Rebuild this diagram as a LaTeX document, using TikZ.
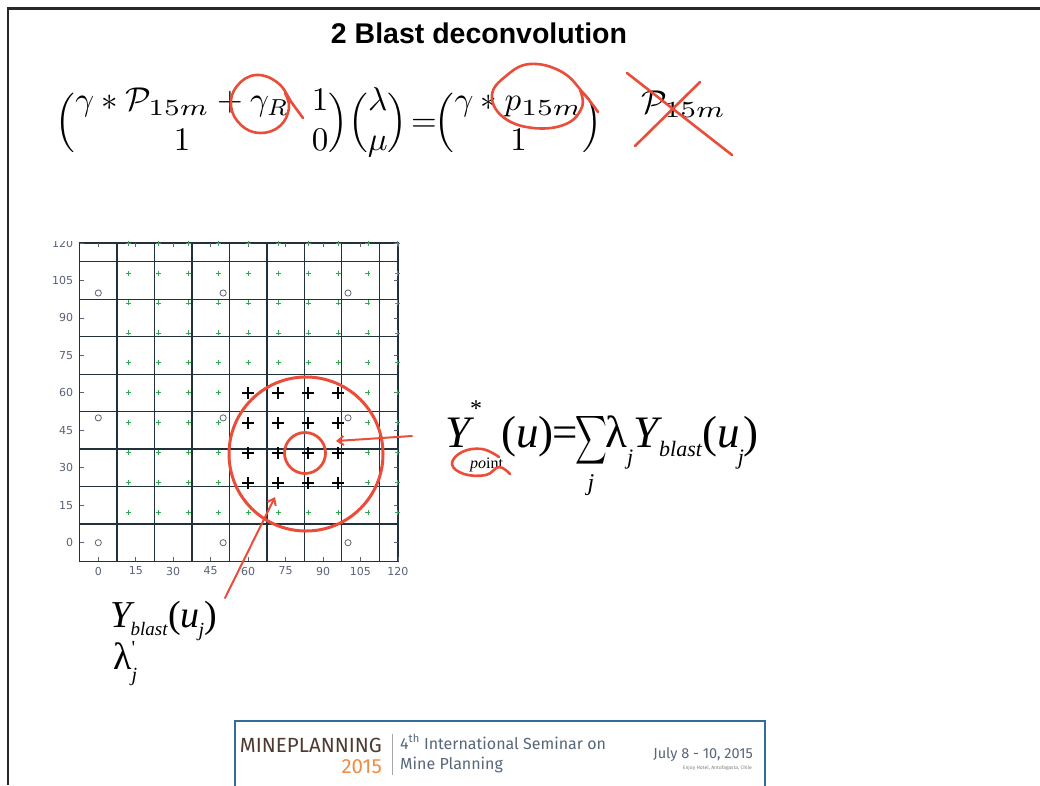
\documentclass[tikz,border=0pt]{standalone}
\usepackage{amsmath}
\usepackage{graphicx}
\usepackage{fontspec}
\usetikzlibrary{arrows.meta}
\newfontfamily\arialf{Liberation Sans}
\newfontfamily\timesf{Liberation Serif}
\newfontfamily\dejaf{DejaVu Sans}
\newfontfamily\firaf{Fira Sans}
\newcommand\bigsub[1]{\scalebox{1.2}[1.0]{$\scriptstyle #1$}}
\definecolor{annot}{RGB}{234,78,58}
\definecolor{gridc}{RGB}{34,50,60}
\definecolor{labc}{RGB}{88,98,118}
\definecolor{gplusc}{RGB}{52,168,82}
\definecolor{markc}{RGB}{95,100,115}
\definecolor{footblue}{RGB}{52,108,150}
\definecolor{minebrown}{RGB}{78,58,48}
\definecolor{mineorange}{RGB}{240,140,70}
\definecolor{footgray}{RGB}{88,102,122}
\definecolor{framec}{RGB}{40,40,40}
\begin{document}
\begin{tikzpicture}[x=1pt,y=-1pt,
  gridline/.style={draw=gridc, line width=1.3pt},
  tickmark/.style={draw=labc, line width=0.8pt},
  axlab/.style={font=\dejaf\fontsize{11}{11}\selectfont, text=labc, inner sep=0pt},
  gplus/.style={draw=gplusc, line width=0.9pt},
  bplus/.style={draw=black, line width=1.8pt},
  omark/.style={draw=markc, line width=0.8pt},
  redline/.style={draw=annot, line width=2.6pt, line cap=round, line join=round},
  redarrow/.style={draw=annot, line width=2pt, line cap=round, -{Straight Barb[length=6pt,width=9pt]}},
  mathbig/.style={inner sep=0pt, scale=3.3},
  serifbig/.style={inner sep=0pt, font=\timesf\fontsize{45}{45}\selectfont},
  serifmid/.style={inner sep=0pt, font=\timesf\fontsize{38}{38}\selectfont},
  foottext/.style={inner sep=0pt, font=\firaf\fontsize{16}{16}\selectfont, text=footgray}]
\useasboundingbox (0,0) rectangle (1040,785);
\fill[white] (0,0) rectangle (1040,785);
% slide frame
\draw[framec, line width=2.5pt] (8,785) -- (8,8.5) -- (1040,8.5);

% title
\node[anchor=base, inner sep=0pt, font=\arialf\bfseries\fontsize{28.5}{30}\selectfont] (title) at (479,43) {2 Blast deconvolution};

% matrix equation
\node[mathbig, anchor=base west] (eq) at (55,131) {\setlength\arraycolsep{3.5pt}$\Bigl(\begin{matrix}\gamma*\mathcal{P}_{\bigsub{15m}}+\gamma_R & 1\\ 1 & 0\end{matrix}\Bigr)\Bigl(\begin{matrix}\lambda\\ \mu\end{matrix}\Bigr)\!=\!\!\Bigl(\begin{matrix}\gamma*p_{\bigsub{15m}}\\ 1\end{matrix}\Bigr)$};
\node[mathbig, anchor=base west] (pcross) at (641,113) {$\mathcal{P}_{\bigsub{15m}}$};

% red marks on the equation
\draw[redline] plot[smooth, tension=0.7] coordinates {(303,118) (292,103) (278,83) (256,75) (237,86) (231,106) (241,125) (260,133) (280,126) (289,108) (285,93)};
\draw[redline] plot[smooth, tension=0.7] coordinates {(598,112) (584,94) (562,72) (530,64) (506,76) (492,95) (503,117) (533,128) (566,124) (582,107) (580,90)};
\draw[redline] (627,73) -- (732,155);
\draw[redline] (700,82) -- (635,146);

% plot
\begin{scope}
\clip (30,241) rectangle (430,600);
\begin{scope}[shift={(98.3,542.7)}, x=2.497pt, y=2.497pt]
  \foreach \g in {7.5,22.5,37.5,52.5,67.5,82.5,97.5,112.5} {
    \draw[gridline] (\g,-7.5) -- (\g,120);
    \draw[gridline] (-7.5,\g) -- (120,\g);
  }
  \draw[gridline] (-7.5,-7.5) rectangle (120,120);
  \foreach \tv in {0,15,30,45,60,75,90,105,120} {
    \draw[tickmark] (\tv,-7.5) -- ++(0,1.6);
    \draw[tickmark] (\tv,120) -- ++(0,-1.6);
    \draw[tickmark] (-7.5,\tv) -- ++(1.6,0);
    \draw[tickmark] (120,\tv) -- ++(-1.6,0);
    \node[axlab, anchor=east] at (-10,\tv) {\tv};
    \node[axlab, anchor=north] at (\tv,-9.6) {\tv};
  }
  \foreach \i in {1,...,10} {
    \foreach \j in {1,...,10} {
      \draw[gplus] ({12*\i-1},{12*\j}) -- ++(2,0) ({12*\i},{12*\j-1}) -- ++(0,2);
    }
  }
  \foreach \i in {5,...,8} {
    \foreach \j in {2,...,5} {
      \draw[bplus] ({12*\i-2.4},{12*\j}) -- ++(4.8,0) ({12*\i},{12*\j-2.4}) -- ++(0,4.8);
    }
  }
  \foreach \ox in {0,50,100} {
    \foreach \oy in {0,50,100} {
      \draw[omark] (\ox,\oy) circle[radius=3.1pt];
    }
  }
\end{scope}
\end{scope}

% red circles
\draw[annot, line width=3pt] (306,454) circle[radius=77];
\draw[annot, line width=2.8pt] (305,453) circle[radius=20.5];

% right formula
\node[serifbig, anchor=base west] (ypoint) at (445,447) {\textit{Y}\kern-4pt\rlap{\raisebox{31pt}{\fontsize{24}{24}\selectfont *}}\raisebox{-21pt}{\fontsize{16}{16}\selectfont\textit{po}int}\kern-2pt(\textit{u})\kern-1pt=};
\node[inner sep=0pt, xscale=2.2, yscale=3.4] (sig) at (591,440) {$\displaystyle\sum$};
\node[inner sep=0pt, anchor=base, font=\timesf\itshape\fontsize{24}{24}\selectfont] (sj) at (591,490) {j};
\node[serifbig, anchor=base west] (lyb) at (605,447) {λ\raisebox{-17pt}{\fontsize{22}{22}\selectfont\textit{j}}\textit{Y}\kern-3pt\raisebox{-9pt}{\fontsize{22}{22}\selectfont\textit{blast}}(\textit{u}\kern-2pt\raisebox{-17pt}{\fontsize{22}{22}\selectfont\textit{j}})};
\draw[redline] plot[smooth, tension=0.7] coordinates {(499,457) (482,449) (462,452) (452,464) (464,474) (486,475) (499,467) (510,474)};

% left labels
\node[serifmid, anchor=base west] (ybl) at (110,627) {\textit{Y}\kern-4pt\raisebox{-8pt}{\fontsize{19}{19}\selectfont\textit{blast}}(\textit{u}\kern-1pt\raisebox{-9pt}{\fontsize{20}{20}\selectfont\textit{j}})};
\node[serifmid, anchor=base west] (lam) at (113,669) {λ\rlap{\raisebox{15pt}{\fontsize{20}{20}\selectfont '}}\raisebox{-12pt}{\fontsize{20}{20}\selectfont\textit{j}}};

% arrows
\coordinate (a1from) at (412,436);
\coordinate (a1to) at (336,441);
\draw[redarrow] (a1from) -- (a1to);
\coordinate (a2from) at (225,598);
\coordinate (a2to) at (275,497);
\draw[redarrow] (a2from) -- (a2to);

% footer
\draw[footblue, line width=2pt] (235,792) -- (235,721) -- (765,721) -- (765,792);
\node[anchor=base east, inner sep=0pt, font=\firaf\fontsize{20.5}{21}\selectfont, text=minebrown] (mine) at (382,752) {MINEPLANNING};
\node[anchor=base east, inner sep=0pt, font=\firaf\fontsize{20.5}{21}\selectfont, text=mineorange] (yr) at (382,773) {2015};
\draw[gray!70, line width=1pt] (392,734) -- (392,775);
\node[foottext, anchor=base west] (sem1) at (400,749) {4\textsuperscript{th} International Seminar on};
\node[foottext, anchor=base west] (sem2) at (400,769) {Mine Planning};
\node[anchor=base east, inner sep=0pt, font=\firaf\fontsize{14.5}{15}\selectfont, text=footgray] (date) at (753,758) {July 8 - 10, 2015};
\node[anchor=base east, inner sep=0pt, font=\firaf\fontsize{5}{5}\selectfont, text=gray] (venue) at (752,769) {Enjoy Hotel, Antofagasta, Chile};
\end{tikzpicture}
\end{document}
